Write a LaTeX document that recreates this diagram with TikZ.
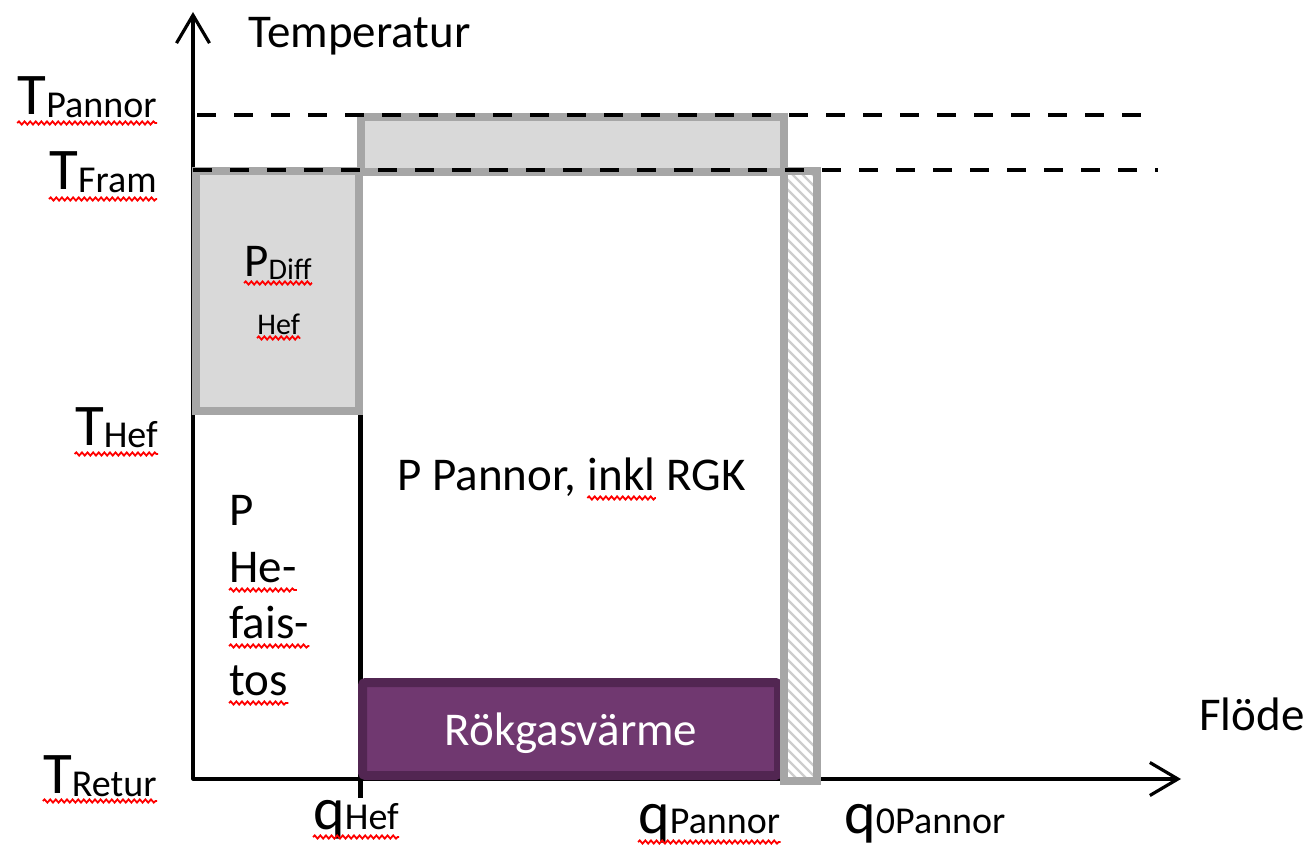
\documentclass[tikz,border=0pt]{standalone}
\usepackage{fontspec}
\setmainfont{Carlito}
\usetikzlibrary{arrows.meta,decorations.pathmorphing,calc}

\definecolor{boxgray}{RGB}{166,166,166}
\definecolor{boxfill}{RGB}{217,217,217}
\definecolor{hatchgray}{RGB}{205,205,205}
\definecolor{plum}{RGB}{112,56,112}
\definecolor{plumdark}{RGB}{82,38,82}

% big letter with a subscript set on the same baseline
\newcommand\tlabel[2]{{\fontsize{29.5}{32}\selectfont #1}{\fontsize{19}{22}\selectfont\raisebox{-1.5pt}{#2}}}
\newcommand\qlabel[2]{{\fontsize{30}{34}\selectfont #1}{\fontsize{19}{22}\selectfont #2}}

\begin{document}
\begin{tikzpicture}[x=0.5pt,y=-0.5pt,
  txt/.style={inner sep=0pt, font=\fontsize{23.5}{28}\selectfont},
  small/.style={inner sep=0pt, font=\fontsize{15}{18}\selectfont},
  lbl/.style={inner sep=0pt, anchor=base east},
  qlbl/.style={inner sep=0pt, anchor=base west},
  axisline/.style={line width=1.6pt, line join=round,
    {Straight Barb[length=14pt,width=16.5pt]}-{Straight Barb[length=14pt,width=16.5pt]}},
  graybox/.style={draw=boxgray, fill=boxfill, line width=4pt},
  dashline/.style={line width=1.6pt, dash pattern=on 9.5pt off 9pt},
  spell/.style={draw=red, line width=0.9pt, decorate,
    decoration={snake, amplitude=0.8pt, segment length=2.8pt}},
]
\useasboundingbox (0,0) rectangle (1305,849);
\fill[white] (0,0) rectangle (1305,849);

% axes
\coordinate (O) at (193,779);
\coordinate (ytip) at (193,12);
\coordinate (xtip) at (1181,779);
\draw[axisline] (ytip) |- (xtip);

% q_Hef divider, reaching below the flow axis
\coordinate (qhefTop) at (360,411);
\coordinate (qhefBot) at (360,798);
\draw[line width=2.5pt] (qhefTop) -- (qhefBot);

% P_Diff Hef block and the boiler top block
\draw[graybox] (196,171) rectangle (359,411);
\draw[graybox] (361,117) rectangle (784,172);

% flue gas heat
\draw[draw=plumdark, fill=plum, line width=4.5pt, rounded corners=1.5pt]
  (362.5,682.5) rectangle (778.5,775.5);

% hatched bar between q_Pannor and q_0Pannor
\fill[white] (784,171) rectangle (817,781);
\begin{scope}
  \clip (784,171) rectangle (817,781);
  \foreach \k in {0,...,66}
    \draw[hatchgray, line width=1.1pt] (778,130+\k*10) -- ++(50,50);
\end{scope}
\draw[boxgray, line width=4pt] (784,171) rectangle (817,781);

% temperature levels
\draw[dashline] (197,115) -- (1158,115);
\draw[dashline] (193,170) -- (1158,170);

% axis titles
\node[txt, anchor=base west] (temp) at (248,48) {Temperatur};
\node[txt, anchor=base west] (flode) at (1199,730) {Flöde};

% temperature labels
\node[lbl] (tpannor) at (157,115) {\tlabel{T}{Pannor}};
\node[lbl] (tfram) at (157,190) {\tlabel{T}{Fram}};
\node[lbl] (thef) at (158,445) {\tlabel{T}{Hef}};
\node[lbl] (tretur) at (157,793) {\tlabel{T}{Retur}};

% flow labels
\node[qlbl] (qhef) at (313,829) {\qlabel{q}{Hef}};
\node[qlbl] (qpannor) at (638,833) {\qlabel{q}{Pannor}};
\node[qlbl] (q0pannor) at (844,833) {\qlabel{q}{0Pannor}};

% block texts
\node[inner sep=0pt, anchor=base west] (pdiff) at (244,277)
  {{\fontsize{23.5}{28}\selectfont P}{\fontsize{15}{18}\selectfont\raisebox{-1.5pt}{Diff}}};
\node[small, anchor=base west] (hefb) at (257,335) {Hef};

\node[txt, anchor=base west] (ph1) at (229,525) {P};
\node[txt, anchor=base west] (ph2) at (229,582) {He-};
\node[txt, anchor=base west] (ph3) at (229,638) {fais-};
\node[txt, anchor=base west] (ph4) at (229,695) {tos};

\node[txt, anchor=base west] (pp) at (397,490) {P Pannor,};
\node[txt, anchor=base west] (inkl) at ([xshift=5.3pt]pp.base east) {inkl};
\node[txt, anchor=base west] (rgk) at ([xshift=5.3pt]inkl.base east) {RGK};

\node[txt, anchor=base, text=white] (rok) at (571,745) {Rökgasvärme};

% spelling marks
\foreach \n/\d in {tpannor/8, tfram/9, thef/9, tretur/8, qhef/8, qpannor/9,
                   inkl/8, ph2/8, ph3/8, ph4/8, pdiff/6, hefb/3}
  \draw[spell] ($(\n.base west)+(0,\d)$) -- ($(\n.base east)+(0,\d)$);
\end{tikzpicture}
\end{document}
